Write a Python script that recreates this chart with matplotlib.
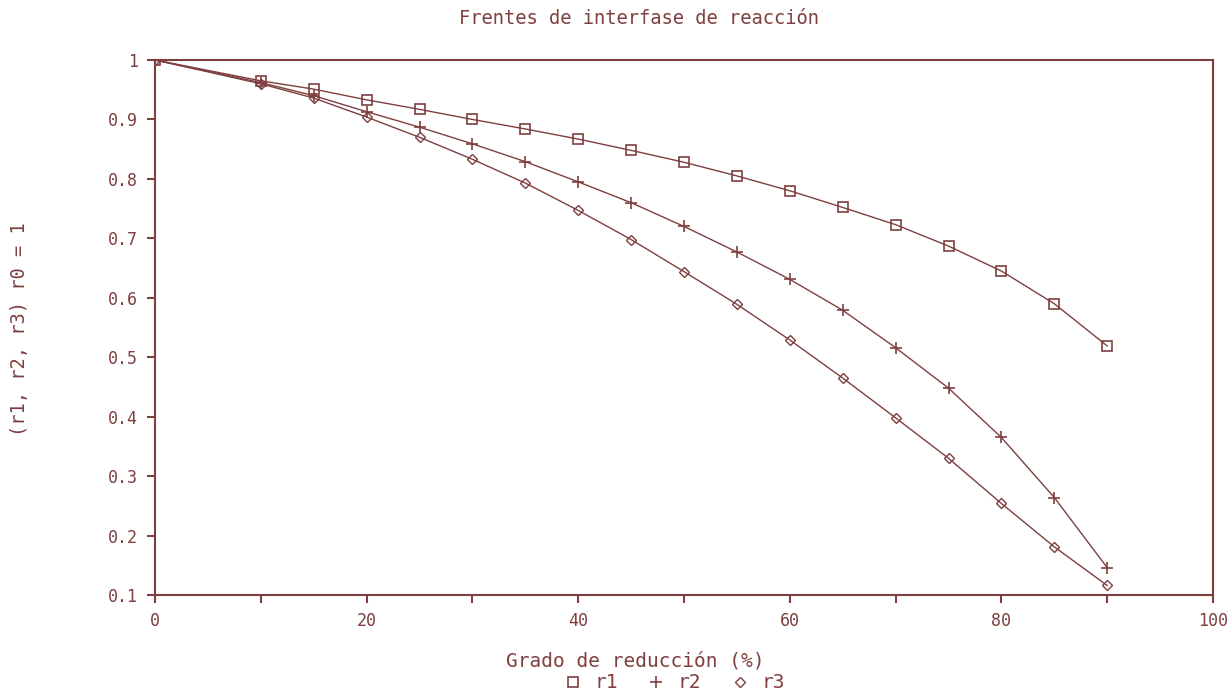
import matplotlib
matplotlib.use("Agg")
import matplotlib.pyplot as plt

plt.rcParams['font.family'] = ['DejaVu Sans Mono']
plt.rcParams['font.size'] = 11

color = "#7f3f3f"

# Grado de reducción (%)
x = [0, 10, 15, 20, 25, 30, 35, 40, 45, 50, 55, 60, 65, 70, 75, 80, 85, 90]

r1 = [1.0, 0.965, 0.951, 0.933, 0.917, 0.900, 0.884, 0.867, 0.848, 0.828,
      0.805, 0.780, 0.752, 0.723, 0.687, 0.645, 0.590, 0.519]
r2 = [1.0, 0.962, 0.940, 0.913, 0.887, 0.859, 0.829, 0.795, 0.760, 0.720,
      0.677, 0.631, 0.579, 0.516, 0.448, 0.365, 0.264, 0.146]
r3 = [1.0, 0.960, 0.936, 0.904, 0.870, 0.833, 0.793, 0.747, 0.698, 0.644,
      0.589, 0.529, 0.465, 0.398, 0.330, 0.254, 0.181, 0.116]

fig = plt.figure(figsize=(12.32, 6.94), dpi=100)
ax = fig.add_axes([155 / 1232, 1 - 595 / 694, (1213 - 155) / 1232, (595 - 60) / 694])

ax.plot(x, r1, color=color, lw=1, marker="s", ms=7, mfc="none", mew=1.2, label="r1")
ax.plot(x, r2, color=color, lw=1, marker="+", ms=9, mew=1.2, label="r2")
ax.plot(x, r3, color=color, lw=1, marker="D", ms=5, mfc="none", mew=1, label="r3")

ax.set_xlim(0, 100)
ax.set_ylim(0.1, 1.0)
ax.set_xticks(range(0, 101, 20))
ax.set_xticks(range(0, 101, 10), minor=True)
ax.set_yticks([0.1, 0.2, 0.3, 0.4, 0.5, 0.6, 0.7, 0.8, 0.9, 1.0])
ax.set_yticklabels(["0.1", "0.2", "0.3", "0.4", "0.5", "0.6", "0.7", "0.8", "0.9", "1"])

for s in ax.spines.values():
    s.set_color(color)
    s.set_linewidth(1.5)
ax.tick_params(axis="both", which="both", colors=color, direction="out",
               length=6, width=1.5, labelsize=12, pad=6)

fig.text(639 / 1232, 1 - 18 / 694, "Frentes de interfase de reacción", ha="center", va="center",
         color=color, fontsize=13.5)
fig.text(635 / 1232, 1 - 661 / 694, "Grado de reducción (%)", ha="center", va="center",
         color=color, fontsize=14)
fig.text(20 / 1232, 1 - 329 / 694, "(r1, r2, r3) r0 = 1", ha="center", va="center",
         rotation=90, color=color, fontsize=13.5)

leg = fig.legend(loc="center", bbox_to_anchor=(674 / 1232, 1 - 683 / 694), ncol=3,
                 frameon=False, fontsize=14, handlelength=1, handletextpad=0.6,
                 columnspacing=1.5, borderpad=0)
for h in leg.legend_handles:
    h.set_linestyle("none")
for t in leg.get_texts():
    t.set_color(color)

fig.savefig("out.png", dpi=100)
